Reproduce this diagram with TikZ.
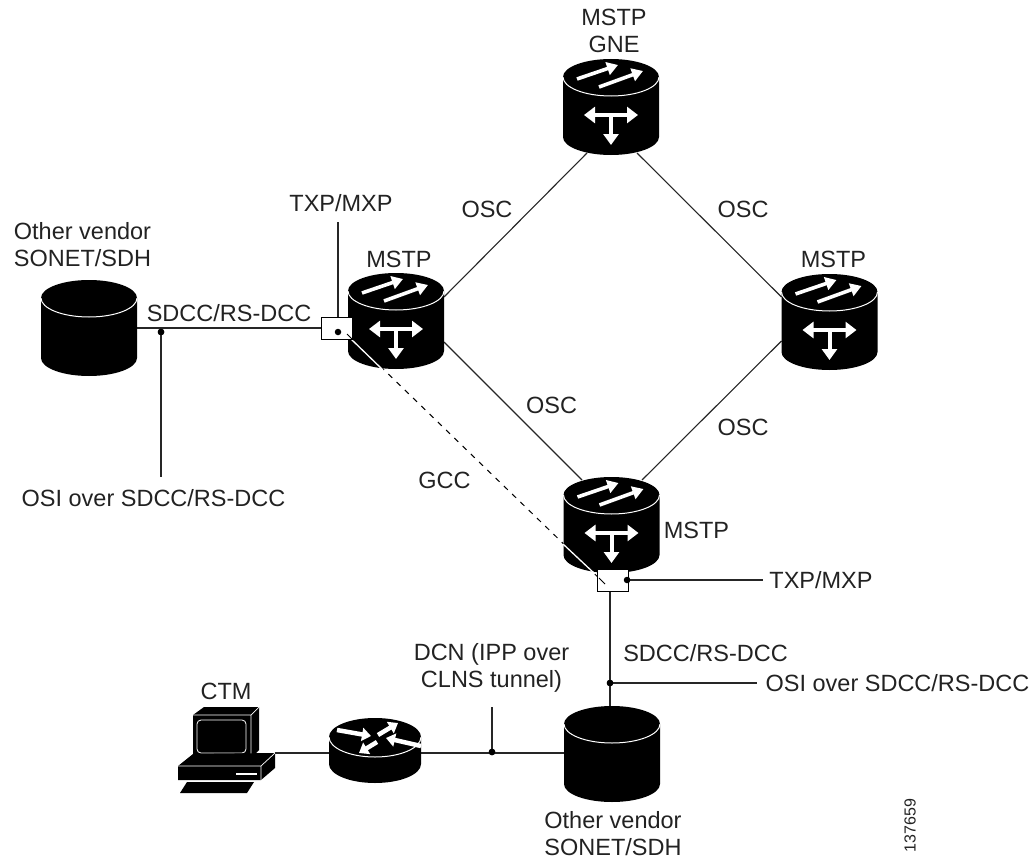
\documentclass[tikz,border=0pt]{standalone}
\usepackage{fontspec}
\setmainfont{Liberation Sans}
\usetikzlibrary{arrows.meta}
\definecolor{ink}{HTML}{222222}
\tikzset{
  x=1pt,y=-1pt,
  anchorbox/.style={inner sep=0,outer sep=0,minimum width=#1,minimum height=96pt},
  link/.style={draw=black!85,line width=1.1pt},
  lab/.style={font=\fontsize{23.5}{27}\selectfont,text=ink,align=center,inner sep=0},
  tinybox/.style={draw=black,fill=white,line width=1pt,inner sep=0,outer sep=0,minimum width=31pt,minimum height=22pt},
  junction/.style={circle,fill=black,inner sep=0,minimum size=6.5pt},
  whitearrow/.style={draw=white,line width=3.6pt,-{Triangle[width=13pt,length=11pt]}},
  routerarrow/.style={draw=white,line width=4.5pt,-{Triangle[width=13pt,length=9pt]}},
  whitearrowb/.style={draw=white,line width=4pt,-{Triangle[width=15pt,length=11pt]}},
  whitearrowc/.style={draw=white,line width=4pt,{Triangle[width=16pt,length=11pt]}-{Triangle[width=16pt,length=11pt]}},
  cylbody/.pic={
    \fill[black] (-48,18) -- (-48,78) arc[start angle=180,end angle=0,x radius=48,y radius=18] -- (48,18) arc[start angle=0,end angle=-180,x radius=48,y radius=18] -- cycle;
    \draw[white,line width=1pt] (-48,18) arc[start angle=180,end angle=0,x radius=48,y radius=19];
  },
  mstpshape/.pic={
    \pic {cylbody};
    \draw[whitearrow] (-34,20) -- (7,6);
    \draw[whitearrow] (-12,28) -- (32,12);
    \draw[whitearrowc] (-27,56) -- (27,56);
    \draw[whitearrowb] (0,56) -- (0,86);
  },
  routershape/.pic={
    \fill[black] (-46,19) -- (-46,46) arc[start angle=180,end angle=0,x radius=46,y radius=19] -- (46,19) arc[start angle=0,end angle=-180,x radius=46,y radius=19] -- cycle;
    \draw[white,line width=1pt] (-46,19) arc[start angle=180,end angle=0,x radius=46,y radius=20];
    \draw[routerarrow] (-38,12) -- (-4,18);
    \draw[routerarrow] (3,17) -- (23,5);
    \draw[routerarrow] (46,28) -- (11,20);
    \draw[routerarrow] (2,24) -- (-16,35);
  },
  ctmshape/.pic={
    \fill[black] (193,715) -- (204,707) -- (259,707) -- (259,750) -- (251,758) -- (193,758) -- cycle;
    \draw[white,line width=.7pt] (193,715) -- (251,715) -- (259,707) (251,715) -- (251,758);
    \draw[white,line width=.8pt,rounded corners=4pt] (197,720) rectangle (246,753);
    \fill[black] (178,766) -- (193,754) -- (275,753) -- (275,768) -- (261,780) -- (178,780) -- cycle;
    \draw[white,line width=.7pt] (178,766) -- (261,766) -- (275,753) (261,766) -- (261,780);
    \draw[white,line width=1.5pt] (236,774) -- (257,774);
    \fill[black] (187,782) -- (254,782) -- (247,793) -- (180,793) -- cycle;
  }
}
\begin{document}
\begin{tikzpicture}
\useasboundingbox (0,0) rectangle (1034,859);
% named anchors
\node[anchorbox=96pt] (gne) at (611,107) {};
\node[anchorbox=96pt] (left) at (396,321) {};
\node[anchorbox=96pt] (right) at (829.5,322) {};
\node[anchorbox=96pt] (bot) at (611.5,525) {};
\node[anchorbox=96pt] (ovl) at (89,328) {};
\node[anchorbox=96pt] (ovb) at (612,754) {};
\node[inner sep=0,outer sep=0,minimum width=92pt,minimum height=60pt] (rtr) at (375,753) {};
\node[inner sep=0,outer sep=0,minimum width=97pt,minimum height=80pt] (ctm) at (226,753) {};
\node[tinybox] (bxl) at (336.5,328) {};
\node[tinybox] (bxb) at (612.5,580) {};
\node[junction] (jbl) at (338,332) {};
\node[junction] (jbb) at (627,580) {};
\node[junction] (j1) at (161,332) {};
\node[junction] (j2) at (610,683) {};
\node[junction] (j3) at (492,752) {};
\coordinate (e1) at (161,477);
\coordinate (e2) at (338,222);
\coordinate (e3) at (763,580);
\coordinate (e4) at (757,683);
\coordinate (e5) at (492,707);
\coordinate (gs) at (347,334);
\coordinate (ge) at (605,584);
% connectors
\draw[link] ([shift={(-24pt,2pt)}]gne.south) -- ([yshift=24pt]left.east);
\draw[link] ([shift={(26pt,2pt)}]gne.south) -- ([yshift=25pt]right.west);
\draw[link] ([yshift=-21pt]left.east) -- ([shift={(-29.5pt,-3pt)}]bot.north);
\draw[link] ([yshift=-19pt]right.west) -- ([shift={(30.5pt,-3pt)}]bot.north);
\draw[link] (ovl.east) -- (bxl.west);
\draw[link] (j1) -- (e1);
\draw[link] (jbl) -- (e2);
\draw[link] (jbb) -- (e3);
\draw[link] (j2) -- (e4);
\draw[link] (j3) -- (e5);
\draw[link] (bxb.south -| j2) -- (ovb.north -| j2);
\draw[link] (ctm.east) -- (rtr.west);
\draw[link] (rtr.east) -- (ovb.west |- rtr.east);
% GCC dashed
\draw[black,line width=1pt,dash pattern=on 5.5pt off 6pt] (gs) -- (ge);
% devices
\pic at (gne.north) {mstpshape};
\pic at (left.north) {mstpshape};
\pic at (right.north) {mstpshape};
\pic at (bot.north) {mstpshape};
\pic at (ovl.north) {cylbody};
\pic at (ovb.north) {cylbody};
\pic at (375,718) {routershape};
\pic at (0,0) {ctmshape};
% GCC over the devices
\draw[white,line width=1.3pt] (351,339) -- (383,370);
\draw[white,line width=1.3pt] (563,544) -- (595,574);
% boxes on top
\node[tinybox] at (bxl) {};
\node[tinybox] at (bxb) {};
\node[junction] at (jbl) {};
\node[junction] at (jbb) {};
\node[junction] at (j1) {};
\node[junction] at (j2) {};
\node[junction] at (j3) {};
\draw[black,line width=1pt] (gs) -- (352,339);
\draw[black,line width=1pt] (599,578) -- (ge);
% labels
\node[lab] at (614,31) {MSTP\\GNE};
\node[lab] at (341,203) {TXP/MXP};
\node[lab] at (82.5,245) {Other vendor\\SONET/SDH};
\node[lab] at (399,259.5) {MSTP};
\node[lab] at (833.5,259.5) {MSTP};
\node[lab] at (487,209) {OSC};
\node[lab] at (743,209) {OSC};
\node[lab] at (551.5,405) {OSC};
\node[lab] at (743,427) {OSC};
\node[lab] at (229,313) {SDCC/RS-DCC};
\node[lab] at (153.5,498) {OSI over SDCC/RS-DCC};
\node[lab] at (444.5,480) {GCC};
\node[lab] at (696.5,530) {MSTP};
\node[lab] at (821,580) {TXP/MXP};
\node[lab] at (705.5,653) {SDCC/RS-DCC};
\node[lab] at (897.5,683) {OSI over SDCC/RS-DCC};
\node[lab] at (491.5,668) {DCN (IPP over\\CLNS tunnel)};
\node[lab] at (226,691) {CTM};
\node[lab] at (613,833.5) {Other vendor\\SONET/SDH};
\node[font=\fontsize{16}{18}\selectfont,text=ink,rotate=90,inner sep=0] at (910,825.5) {137659};
\end{tikzpicture}
\end{document}
